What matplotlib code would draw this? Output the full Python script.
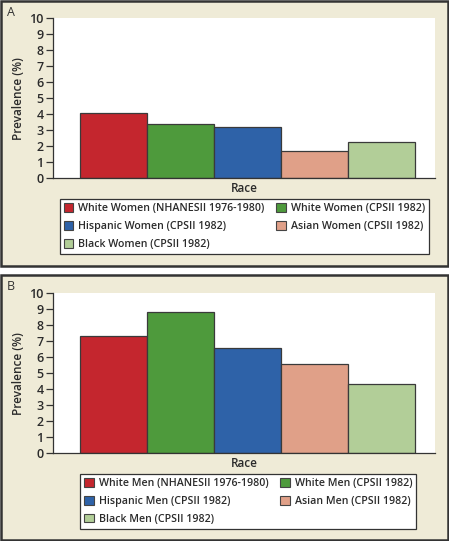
import matplotlib.pyplot as plt
from matplotlib.patches import Rectangle, Patch

plt.rcParams['font.family'] = ['Open Sans', 'DejaVu Sans']

colors = ["#C4262E", "#4E9A3C", "#2E62A8", "#E0A088", "#B2CE98"]
women_labels = ["White Women (NHANESII 1976-1980)", "White Women (CPSII 1982)",
                "Hispanic Women (CPSII 1982)", "Asian Women (CPSII 1982)",
                "Black Women (CPSII 1982)"]
women_values = [4.1, 3.4, 3.2, 1.7, 2.3]
men_labels = ["White Men (NHANESII 1976-1980)", "White Men (CPSII 1982)",
              "Hispanic Men (CPSII 1982)", "Asian Men (CPSII 1982)",
              "Black Men (CPSII 1982)"]
men_values = [7.35, 8.85, 6.6, 5.55, 4.3]

W, H = 449, 541
bg = "#EFEBD7"
ink = "#2b2b2b"
fig = plt.figure(figsize=(W / 100, H / 100), dpi=100, facecolor="white")


def px(x0, y0, x1, y1):
    # pixel box (top-left origin) -> figure fraction [l, b, w, h]
    return [x0 / W, 1 - y1 / H, (x1 - x0) / W, (y1 - y0) / H]


def panel(box, ax_box, letter, labels, values, leg_box):
    l, b, w, h = px(*box)
    fig.patches.append(Rectangle((l, b), w, h, transform=fig.transFigure,
                                 facecolor=bg, edgecolor="#333333", linewidth=1.8, zorder=-5))
    fig.text(l + 6 / W, b + h - 5 / H, letter, ha="left", va="top", fontsize=9, color="#333333")
    ax = fig.add_axes(px(*ax_box))
    ax.set_facecolor("white")
    for i, (lab, v) in enumerate(zip(labels, values)):
        ax.bar(i, v, width=1.0, color=colors[i], edgecolor="#3a3a3a", linewidth=0.9, label=lab)
    ax.set_xlim(-0.9, 4.8)
    ax.set_ylim(0, 10)
    ax.set_yticks(range(0, 11))
    ax.set_xticks([])
    ax.spines["top"].set_visible(False)
    ax.spines["right"].set_visible(False)
    for s in ["left", "bottom"]:
        ax.spines[s].set_color("#333333")
        ax.spines[s].set_linewidth(0.9)
    ax.tick_params(axis="y", direction="out", length=5, width=0.9, color="#333333",
                   labelsize=9, pad=2, labelcolor=ink)
    for t in ax.get_yticklabels():
        t.set_fontweight("semibold")
    ax.set_ylabel("Prevalence (%)", fontsize=8.5, labelpad=3, fontweight="semibold", color=ink)
    ax.set_xlabel("Race", fontsize=8.5, labelpad=3, fontweight="semibold", color=ink)
    handles = [Patch(facecolor=c, edgecolor="#444444", linewidth=0.8) for c in colors]
    order = [0, 2, 4, 1, 3]
    lx0, ly0, lx1, ly1 = leg_box
    leg = fig.legend([handles[k] for k in order], [labels[k] for k in order],
                     ncol=2, loc="upper left",
                     bbox_to_anchor=(lx0 / W, 1 - ly0 / H),
                     prop={"size": 7.7, "weight": "semibold"},
                     frameon=True, fancybox=False, framealpha=1, facecolor="white",
                     handlelength=0.9, handleheight=0.9, handletextpad=0.45,
                     columnspacing=1.1, labelspacing=0.62, borderpad=0.38,
                     borderaxespad=0)
    for t in leg.get_texts():
        t.set_color(ink)
    leg.get_frame().set_edgecolor("#333333")
    leg.get_frame().set_linewidth(0.9)
    return ax


panel((1, 1, 448, 266), (53.3, 18.5, 435, 178.3), "A", women_labels, women_values,
      (59.7, 199.3, 429.3, 252))
panel((1, 275, 448, 540), (53.3, 293.3, 435, 453), "B", men_labels, men_values,
      (80.3, 474, 433.3, 526.7))

fig.savefig("out.png", dpi=100, facecolor="white")
